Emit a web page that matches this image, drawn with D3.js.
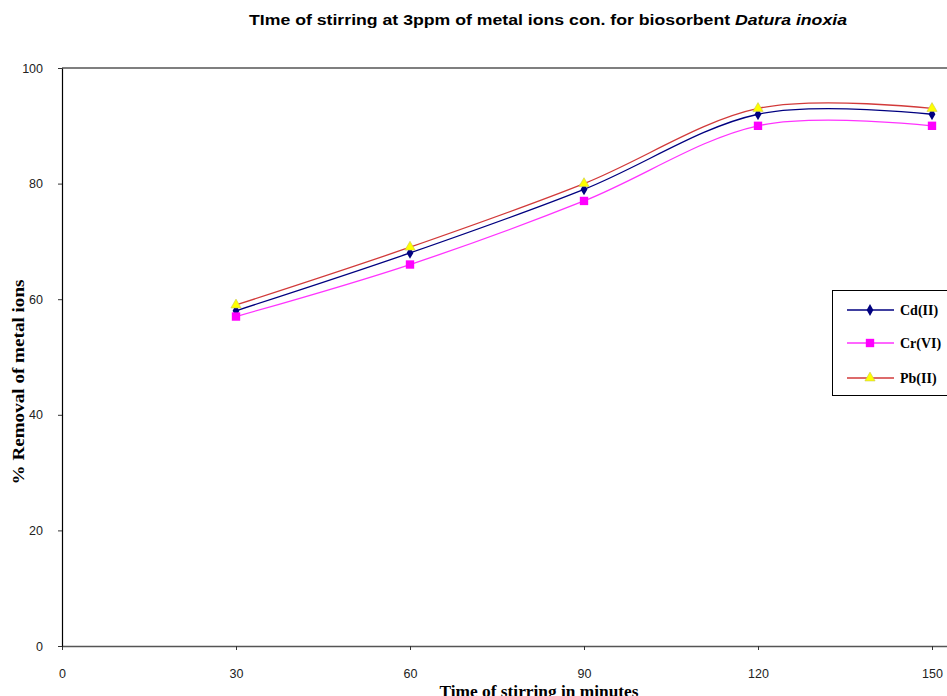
<!DOCTYPE html>
<html>
<head>
<meta charset="utf-8">
<script src="https://cdn.jsdelivr.net/npm/d3@7"></script>
<style>
  body { margin: 0; background: #fff; }
  svg { display: block; }
</style>
</head>
<body>
<svg width="947" height="696"></svg>
<script>
var times = [30, 60, 90, 120, 150];
var cdValues = [58, 68, 79, 92, 92];
var crValues = [57, 66, 77, 90, 90];
var pbValues = [59, 69, 80, 93, 93];
var xTicks = [0, 30, 60, 90, 120, 150];
var yTicks = [0, 20, 40, 60, 80, 100];
var seriesNames = ["Cd(II)", "Cr(VI)", "Pb(II)"];

var svg = d3.select("svg"),
    plotLeft = 62,
    plotTop = 68,
    plotBottom = 646;

var x = d3.scaleLinear().domain([0, 160]).range([plotLeft, plotLeft + 870 * 160 / 150]),
    y = d3.scaleLinear().domain([0, 100]).range([plotBottom, plotTop]);

var series = [
  {name: seriesNames[0], values: cdValues, line: "#000080", fill: "#000080", shape: d3.symbolDiamond, size: 40},
  {name: seriesNames[1], values: crValues, line: "#ff33ff", fill: "#ff00ff", shape: d3.symbolSquare, size: 70},
  {name: seriesNames[2], values: pbValues, line: "#d23a3a", fill: "#ffff00", shape: d3.symbolTriangle, size: 45}
];

// title
var title = svg.append("text")
    .attr("x", 548)
    .attr("y", 25)
    .attr("text-anchor", "middle")
    .attr("textLength", 598)
    .attr("lengthAdjust", "spacingAndGlyphs")
    .style("font-family", "Liberation Sans, Arial, sans-serif")
    .style("font-weight", "bold")
    .style("font-size", "14px");
title.append("tspan").text("TIme of stirring at 3ppm of metal ions con. for biosorbent ");
title.append("tspan").style("font-style", "italic").text("Datura inoxia");

// plot frame top line
svg.append("line")
    .attr("x1", plotLeft).attr("x2", 947)
    .attr("y1", plotTop).attr("y2", plotTop)
    .attr("stroke", "#000").attr("stroke-width", 1.2);

// axes
var xAxis = d3.axisBottom(x).tickValues(xTicks).tickSize(4).tickSizeOuter(0);
var yAxis = d3.axisLeft(y).tickValues(yTicks).tickSize(4).tickSizeOuter(0);

var gx = svg.append("g").attr("transform", "translate(0," + plotBottom + ")").call(xAxis);
gx.select(".domain").attr("stroke", "#555").attr("stroke-width", 1.5);
gx.selectAll(".tick line").attr("stroke", "#333");
gx.selectAll(".tick text")
    .attr("y", 19)
    .attr("dy", "1em")
    .attr("fill", "#222")
    .style("font-family", "Liberation Sans, Arial, sans-serif")
    .style("font-size", "12.5px");

var gy = svg.append("g").attr("transform", "translate(" + plotLeft + ",0)").call(yAxis);
gy.select(".domain").attr("stroke", "#000").attr("stroke-width", 1.2);
gy.selectAll(".tick line").attr("stroke", "#333");
gy.selectAll(".tick text")
    .attr("x", -19)
    .attr("fill", "#222")
    .style("font-family", "Liberation Sans, Arial, sans-serif")
    .style("font-size", "12.5px");

// axis titles
svg.append("text")
    .attr("x", 539)
    .attr("y", 697)
    .attr("text-anchor", "middle")
    .attr("textLength", 199)
    .attr("lengthAdjust", "spacingAndGlyphs")
    .style("font-family", "Liberation Serif, Times New Roman, serif")
    .style("font-weight", "bold")
    .style("font-size", "17px")
    .text("Time of stirring in minutes");

svg.append("text")
    .attr("transform", "translate(24,382) rotate(-90)")
    .attr("text-anchor", "middle")
    .attr("textLength", 205)
    .attr("lengthAdjust", "spacingAndGlyphs")
    .style("font-family", "Liberation Serif, Times New Roman, serif")
    .style("font-weight", "bold")
    .style("font-size", "17px")
    .text("% Removal of metal ions");

// lines
var line = d3.line()
    .x(function(d, i) { return x(times[i]); })
    .y(function(d) { return y(d); })
    .curve(d3.curveCatmullRom.alpha(0));

var groups = svg.selectAll(".series")
    .data(series)
    .enter().append("g")
    .attr("class", "series");

groups.append("path")
    .attr("d", function(d) { return line(d.values); })
    .attr("fill", "none")
    .attr("stroke", function(d) { return d.line; })
    .attr("stroke-width", 1.3);

groups.each(function(s) {
  d3.select(this).selectAll(".pt")
      .data(s.values)
      .enter().append("path")
      .attr("class", "pt")
      .attr("transform", function(d, i) { return "translate(" + x(times[i]) + "," + y(d) + ")"; })
      .attr("d", d3.symbol().type(s.shape).size(s.size))
      .attr("fill", s.fill)
      .attr("stroke", s.shape === d3.symbolTriangle ? "#c8c850" : "none")
      .attr("stroke-width", 0.6);
});

// legend
var legend = svg.append("g").attr("transform", "translate(832,290)");
legend.append("rect")
    .attr("x", 0.5).attr("y", 0.5)
    .attr("width", 130).attr("height", 105)
    .attr("fill", "#fff")
    .attr("stroke", "#000")
    .attr("stroke-width", 1);

var items = legend.selectAll(".item")
    .data(series)
    .enter().append("g")
    .attr("class", "item")
    .attr("transform", function(d, i) { return "translate(0," + [20, 53, 88][i] + ")"; });

items.append("line")
    .attr("x1", 15).attr("x2", 62)
    .attr("stroke", function(d) { return d.line; })
    .attr("stroke-width", 1.3);

items.append("path")
    .attr("transform", "translate(38,0)")
    .attr("d", function(d) { return d3.symbol().type(d.shape).size(d.size)(); })
    .attr("fill", function(d) { return d.fill; })
    .attr("stroke", function(d) { return d.shape === d3.symbolTriangle ? "#c8c850" : "none"; })
    .attr("stroke-width", 0.6);

items.append("text")
    .attr("x", 68)
    .attr("dy", "0.35em")
    .style("font-family", "Liberation Serif, Times New Roman, serif")
    .style("font-weight", "bold")
    .style("font-size", "14px")
    .text(function(d) { return d.name; });
</script>
</body>
</html>
